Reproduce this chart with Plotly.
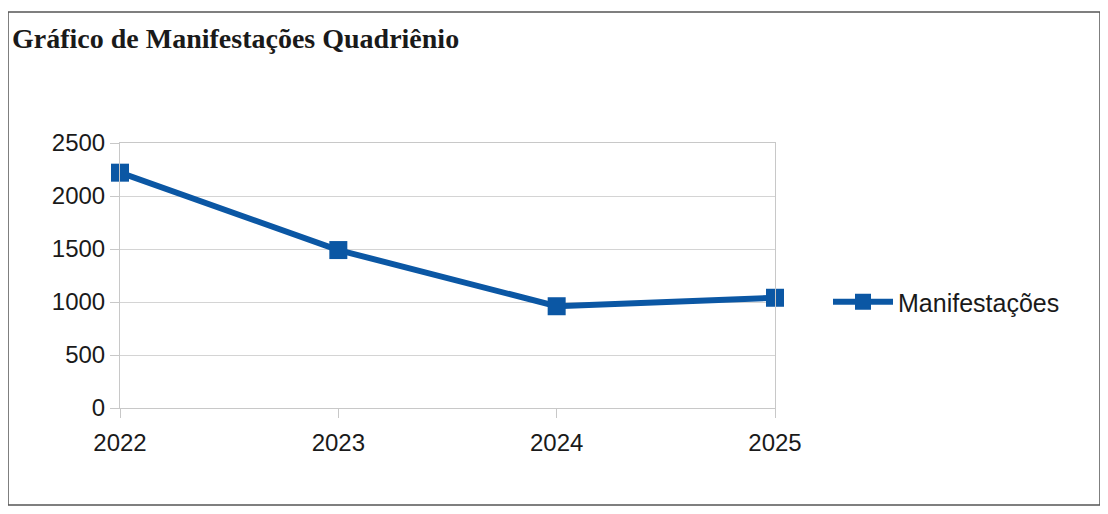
import plotly.graph_objects as go

years = [2022, 2023, 2024, 2025]
manifestacoes = [2220, 1490, 960, 1040]
y_ticks = [0, 500, 1000, 1500, 2000, 2500]
series_name = "Manifestações"
title_text = "Gráfico de Manifestações Quadriênio"

color = "#0b57a4"

fig = go.Figure()
fig.add_trace(go.Scatter(
    x=years, y=manifestacoes, name=series_name, mode="lines+markers",
    line=dict(color=color, width=6),
    marker=dict(symbol="square", size=18, color=color),
    showlegend=True,
))

W, H = 1108, 514
OFF = 8  # page body margin offset
l, r, t, b = 120 - OFF, W - (775 - OFF), 143 - OFF, H - (408 - OFF)
pw, ph = W - l - r, H - t - b

def px_x(p):
    return (p - OFF - l) / pw

def px_y(p):
    return (H - b - (p - OFF)) / ph

fig.update_layout(
    width=W, height=H,
    margin=dict(l=l, r=r, t=t, b=b),
    paper_bgcolor="white", plot_bgcolor="white",
    font=dict(family="Liberation Sans, Arial, sans-serif", size=24, color="#1a1a1a"),
    title=dict(text=title_text, x=(12 - OFF) / W, xref="container", xanchor="left",
               y=1 - (38 - OFF) / H, yref="container", yanchor="middle",
               font=dict(family="Liberation Serif, Times New Roman, serif", size=28, color="#1a1a1a", weight="bold")),
    xaxis=dict(range=[2022, 2025], tickvals=years, ticktext=[str(v) for v in years],
               showgrid=False, zeroline=False, showline=True, mirror=True,
               linecolor="#c8c8c8", linewidth=1,
               ticks="outside", ticklen=9, tickcolor="#c8c8c8", ticklabelstandoff=4),
    yaxis=dict(range=[0, 2500], tickvals=y_ticks, showgrid=True, gridcolor="#d4d4d4",
               zeroline=False, showline=True, mirror=True, linecolor="#c8c8c8", linewidth=1,
               ticks="outside", ticklen=9, tickcolor="#c8c8c8"),
    legend=dict(x=px_x(828), y=px_y(302), xanchor="left", yanchor="middle",
                font=dict(size=25), itemwidth=60, bgcolor="rgba(0,0,0,0)"),
)

fig.update_traces(cliponaxis=False)

fig.add_shape(type="rect", xref="paper", yref="paper",
              x0=px_x(OFF), x1=px_x(1100), y0=px_y(505), y1=px_y(12),
              line=dict(color="#555555", width=1.5), fillcolor="rgba(0,0,0,0)", layer="below")

fig.write_html("out.html")
